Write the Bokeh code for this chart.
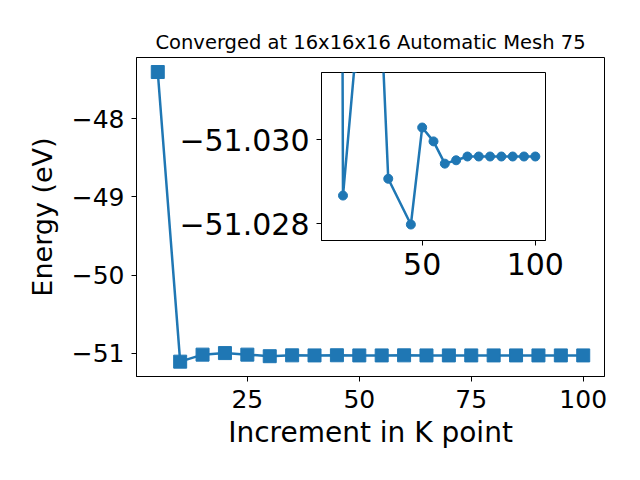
from bokeh.plotting import figure
from bokeh.models import Range1d, FixedTicker, CustomJSTickFormatter, Column
from bokeh.embed import file_html
from bokeh.resources import INLINE

# ---- data ----
k_points = [5, 10, 15, 20, 25, 30, 35, 40, 45, 50,
            55, 60, 65, 70, 75, 80, 85, 90, 95, 100]
energy = [-47.40, -51.11, -51.02, -51.00, -51.02, -51.04, -51.029, -51.030, -51.028, -51.030,
          -51.030, -51.029, -51.030, -51.030, -51.030, -51.030, -51.030, -51.030, -51.030, -51.030]

inset_k = [10, 15, 20, 25, 30, 35, 45, 50, 55, 60, 65, 70, 75, 80, 85, 90, 95, 100]
inset_energy = [-51.11, -51.02867, -51.0317, -51.0340, -51.0352, -51.02907, -51.02798,
                -51.03029, -51.02996, -51.02943, -51.02951, -51.02960, -51.02960,
                -51.02960, -51.02960, -51.02960, -51.02960, -51.02960]

main_xticks = [25, 50, 75, 100]
main_yticks = [-51, -50, -49, -48]
inset_xticks = [50, 100]
inset_yticks = [-51.030, -51.028]

title_text = "Converged at 16x16x16 Automatic Mesh 75"
x_label = "Increment in K point"
y_label = "Energy (eV)"

BLUE = "#1f77b4"
FONT = "DejaVu Sans"

# shared side borders (the column aligns them across both figures)
B_L, B_R = 185, 32
MAIN_SHIFT = 136 - B_L          # negative left margin of the main figure
MAIN_H = 57 + 319 + 96


def fmt(decimals):
    return CustomJSTickFormatter(
        code="return (tick < 0 ? '\\u2212' : '') + Math.abs(tick).toFixed(%d);" % decimals)


def style_axes(fig, tick_size):
    for ax in (fig.xaxis[0], fig.yaxis[0]):
        ax.major_label_text_font = FONT
        ax.major_label_text_font_size = tick_size
        ax.major_label_text_color = "black"
        ax.axis_label_text_font = FONT
        ax.axis_label_text_font_style = "normal"
        ax.axis_label_text_color = "black"
        ax.major_tick_out = 5
        ax.major_tick_in = 0
        ax.major_tick_line_color = "black"
        ax.major_tick_line_width = 1
        ax.minor_tick_line_color = None
        ax.axis_line_color = "black"
        ax.axis_line_width = 1
        ax.major_label_standoff = 7
    fig.xgrid.visible = False
    fig.ygrid.visible = False
    fig.outline_line_color = "black"
    fig.outline_line_width = 1
    fig.outline_line_alpha = 1


# ---- main figure ----
p = figure(width=B_L + 468 + B_R - MAIN_SHIFT, height=MAIN_H,
           x_range=Range1d(0.25, 104.75), y_range=Range1d(-51.30, -47.214),
           output_backend="svg", toolbar_location=None,
           min_border_left=B_L, min_border_right=B_R,
           min_border_top=57, min_border_bottom=96,
           margin=(0, 0, 0, MAIN_SHIFT),
           title=title_text)
p.title.text_font = FONT
p.title.text_font_size = "19.5px"
p.title.text_font_style = "normal"
p.title.text_color = "black"
p.title.align = "center"
p.title.standoff = 8

style_axes(p, "25px")
p.xaxis[0].ticker = FixedTicker(ticks=main_xticks)
p.yaxis[0].ticker = FixedTicker(ticks=main_yticks)
p.xaxis[0].formatter = fmt(0)
p.yaxis[0].formatter = fmt(0)
p.xaxis[0].axis_label = x_label
p.yaxis[0].axis_label = y_label
p.xaxis[0].axis_label_text_font_size = "28px"
p.yaxis[0].axis_label_text_font_size = "27px"
p.xaxis[0].major_label_standoff = 8
p.xaxis[0].axis_label_standoff = 5
p.yaxis[0].axis_label_standoff = 11

p.line(k_points, energy, line_color=BLUE, line_width=2.5)
p.scatter(k_points, energy, marker="square", size=13,
          fill_color=BLUE, line_color=BLUE, line_width=1)

# ---- inset figure, pulled up over the main one with a negative top margin ----
inset = figure(width=B_L + 224 + B_R, height=10 + 168 + 55,
               x_range=Range1d(5.5, 104.5), y_range=Range1d(-51.0276, -51.0316),
               output_backend="svg", toolbar_location=None,
               min_border_left=B_L, min_border_right=B_R,
               min_border_top=10, min_border_bottom=55,
               margin=(72 - 10 - MAIN_H, 0, 0, 321 - B_L))
inset.border_fill_color = None
inset.background_fill_color = "white"
style_axes(inset, "30px")
inset.xaxis[0].ticker = FixedTicker(ticks=inset_xticks)
inset.yaxis[0].ticker = FixedTicker(ticks=inset_yticks)
inset.xaxis[0].formatter = fmt(0)
inset.yaxis[0].formatter = fmt(3)

inset.line(inset_k, inset_energy, line_color=BLUE, line_width=2.5)
inset.scatter(inset_k, inset_energy, marker="circle", size=9,
              fill_color=BLUE, line_color=BLUE)

layout = Column(children=[p, inset], spacing=0)

open("out.html", "w").write(file_html(layout, INLINE))
